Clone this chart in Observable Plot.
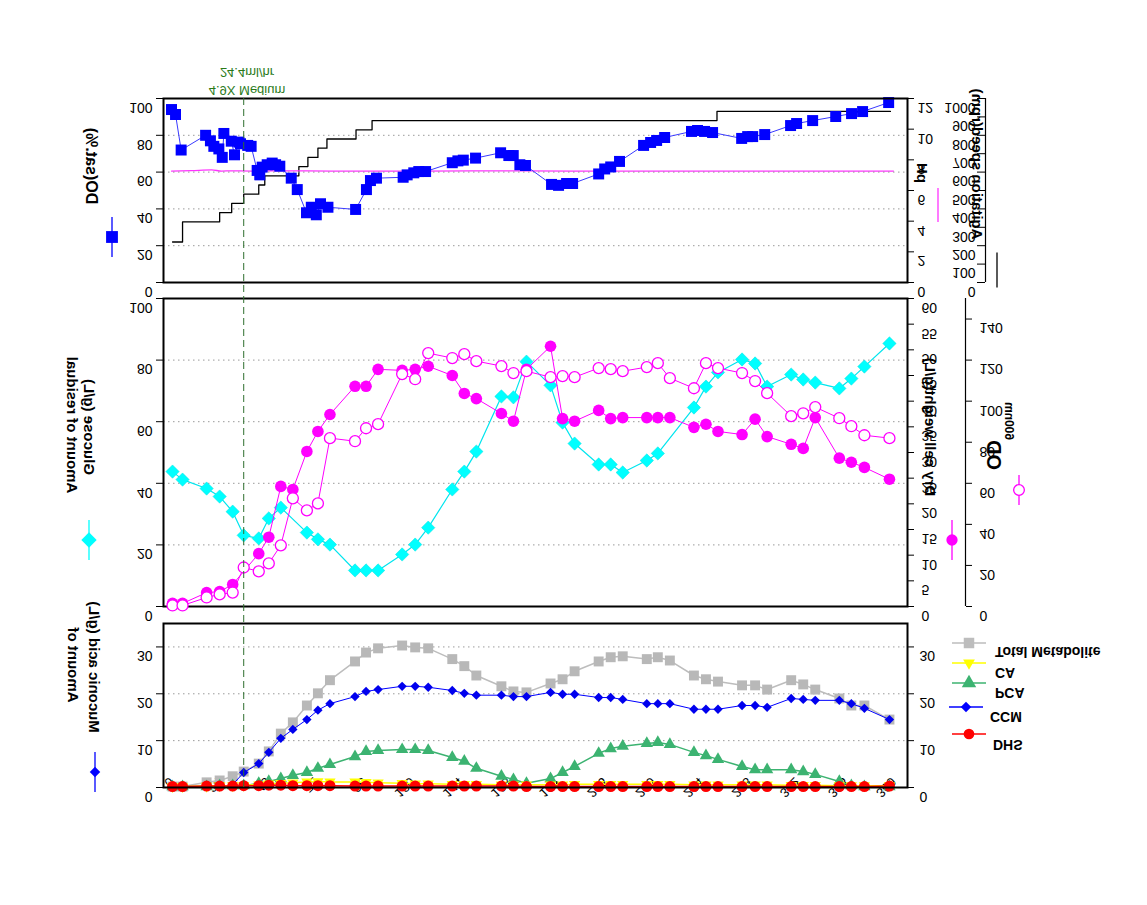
<!DOCTYPE html>
<html><head><meta charset="utf-8">
<script src="https://cdn.jsdelivr.net/npm/d3@7"></script>
<script src="https://cdn.jsdelivr.net/npm/@observablehq/plot@0.6"></script>
<style>
body{margin:0;background:#fff;}
#chart{position:relative;width:1147px;height:905px;font-family:"Liberation Sans",Arial,sans-serif;}
#chart svg{position:absolute;left:0;top:0;overflow:visible;}
</style></head><body><div id="chart"></div>
<script>
// ---------- DATA ----------
const xTicks = [0,24,48,72,96,120,144,168,192,216,240,264,288,312,336,360];

// online DO (sat.%)
const doHours = [0,2,4.8,17,19.4,21.1,23.6,25.3,26.1,29.8,31.4,33.6,34.4,38,39.7,42.7,44,45.2,47.7,50.2,51.9,54,59.7,62.7,67.3,69.7,72.2,74.3,78,91.8,97.2,99.2,102.2,115.5,117.5,120.8,123.3,126.7,140,142.8,145.5,151.6,164.1,168.2,170.4,173.7,176.5,189.5,193,197,200,213,216,219,223.4,235.4,238.9,241.9,245.9,259.3,262.3,265.8,269.8,284.3,287.3,289.8,295.8,308.7,311.7,319.7,331.2,339.1,344.6,357.6];
const doValues = [94,91.3,72,80,77,74,72.6,68,81,76.8,69.4,76.3,75.4,74.5,74,60.9,58.5,62.7,64,64.9,64,63.2,56.7,50.5,37.9,40.9,36.8,42.8,40.9,39.7,50.5,55.4,56.7,57.2,58.5,59.6,60.3,60.3,65.1,66.1,66.5,67.6,70.5,69,69,64,63.6,53.3,52.8,53.8,53.8,59,61.7,62.8,65.8,74.5,76.1,77.2,78.8,82.1,82.6,82.1,81.5,78.3,79.3,79.3,80.4,85.3,86.4,88,90.2,91.8,92.9,97.8];

// pH
const phHours = [0,10,20,25,30,40,60,100,150,200,250,300,360];
const phValues = [7.27,7.3,7.34,7.27,7.28,7.27,7.28,7.26,7.28,7.27,7.27,7.27,7.27];

// agitation speed (rpm), step changes
const agitHours = [0.5,5.5,24,30,36,43.5,46.5,63.5,68,73,77.5,92,100,272,358.5];
const agitValues = [220,330,380,430,480,530,580,630,680,730,780,830,880,930,930];

// offline samples
const sampleHours = [0.5,5.5,17.5,24,30.5,36,43.5,48.5,54.5,60.5,67.5,73,79,91.5,97,103,115,121.5,128,140,146,152,164.5,170.5,177,189,195,201,213,219,225,237,242.5,248.5,260.5,266.5,272.5,284.5,291,297,309,315,321,333,339,345.5,358];
const glucose = [43.8,41.2,38.3,35.7,30.8,23.1,22.1,28.6,32.1,null,24.0,21.8,20.1,11.7,11.7,11.7,16.9,20.1,25.6,38.0,43.8,50.3,68.2,67.9,79.5,71.8,59.7,52.9,46.1,46.1,43.5,47.4,49.7,null,64.6,71.4,76.0,80.2,78.9,71.4,75.3,73.7,72.7,70.8,74.0,77.9,85.4];
const dcw = [0.6,0.6,2.7,2.9,4.3,null,10.3,13.5,23.4,22.8,30.2,34.1,37.4,42.9,42.9,46.2,46.0,46.2,46.8,45.0,41.5,40.5,37.6,36.1,46.2,50.7,36.6,36.1,38.2,36.6,36.8,36.8,36.8,36.8,34.9,35.5,34.1,33.5,36.5,33.1,31.6,30.8,36.8,28.9,28.1,27.1,24.8];
const od600 = [0.5,0.5,4.4,5.9,6.8,19.0,17.1,21.0,29.8,52.7,46.8,50.2,82.0,80.5,86.8,88.8,113.2,110.7,123.4,121.0,122.9,119.5,117.1,113.7,114.6,111.7,112.2,111.7,116.1,115.6,114.6,116.6,118.5,111.2,106.3,118.5,116.1,113.7,109.8,103.9,92.7,94.1,97.1,91.7,87.8,83.4,82.0];
const totalMet = [0.2,0.2,1.1,1.5,2.4,3.4,5.1,7.7,11.5,13.9,17.5,20.1,22.9,26.9,28.8,29.7,30.3,29.9,29.7,27.4,25.9,23.9,21.6,20.5,20.3,22.2,23.1,24.8,26.9,27.8,28.0,27.4,27.8,27.1,23.9,23.1,22.6,21.8,21.8,20.9,22.9,22.0,20.9,19.0,17.5,17.5,14.5];
const ccm = [0,0,0.2,0.2,0.6,3.2,5.1,7.5,10.5,12.4,14.5,16.5,17.9,19.4,20.5,20.9,21.6,21.6,21.4,20.7,20.1,19.7,19.7,19.4,19.4,20.3,19.9,19.9,19.2,19.2,18.8,17.9,17.9,17.9,16.7,16.7,16.7,17.5,17.5,17.1,19.0,18.8,18.6,18.6,17.9,16.9,14.5];
const pca = [0.2,0.2,0.2,0.4,0.4,0.4,0.9,1.3,1.9,2.6,3.2,4.1,4.9,6.6,7.7,7.9,8.1,8.1,7.9,6.4,5.6,4.1,2.4,1.7,0.9,1.9,3.2,4.5,7.3,8.3,8.8,9.4,9.6,9.2,7.5,6.8,6.0,4.5,3.8,3.8,3.8,3.4,2.8,1.3,0.4,0.2,0.2];
const ca = [0.2,0.2,0.3,0.4,0.4,0.5,0.6,0.8,0.9,1.0,1.2,1.3,1.2,1.2,1.1,1.0,0.9,0.8,0.8,0.7,0.7,0.7,0.6,0.6,0.6,0.6,0.6,0.7,0.7,0.7,0.7,0.7,0.7,0.7,0.6,0.6,0.6,0.6,0.6,0.6,0.5,0.5,0.5,0.4,0.4,0.4,0.4];
const dhs = [0.2,0.2,0.3,0.3,0.3,0.4,0.4,0.5,0.5,0.4,0.4,0.4,0.4,0.3,0.3,0.3,0.3,0.3,0.3,0.3,0.3,0.3,0.3,0.3,0.2,0.2,0.2,0.2,0.2,0.2,0.2,0.2,0.2,0.2,0.2,0.2,0.2,0.2,0.2,0.2,0.2,0.2,0.2,0.2,0.2,0.2,0.3];

const feedHour = 36;

// ---------- helpers ----------
const W = 1147, H = 905, X0 = 163, X1 = 907;
const xDomain = [-4, 367];
const TOP = [98, 282], MID = [298, 606], BOT = [623, 787];
const FONT = "'Liberation Sans', Arial, sans-serif";
const chart = document.getElementById("chart");
const series = (hours, vals) => hours.map((h, i) => ({h, v: vals[i]})).filter(d => d.v != null);
const plain = d => String(d);

function layer(panel, yDomain, marks, opt = {}) {
  const svg = Plot.plot({
    width: W, height: H,
    marginLeft: opt.left ?? X0, marginRight: opt.right ?? (W - X1),
    marginTop: panel[0], marginBottom: H - panel[1],
    x: opt.x ?? {domain: xDomain, axis: null},
    y: {domain: yDomain, axis: null},
    style: {background: "transparent", fontFamily: FONT, fontSize: "14px", overflow: "visible", color: "black"},
    marks
  });
  chart.appendChild(svg);
  return svg;
}
function sideAxis(panel, yDomain, xPos, ticks, anchor, extra = {}) {
  layer(panel, yDomain, [
    Plot.axisY(ticks, {anchor, label: null, tickFormat: plain, tickSize: extra.tickSize ?? 7, tickPadding: extra.tickPadding ?? 3, fontSize: 14, stroke: "black"}),
    Plot.ruleX([0], {stroke: "black", strokeWidth: 1.2})
  ], {left: anchor === "left" ? xPos : xPos - 1, right: W - (anchor === "left" ? xPos + 1 : xPos),
      x: {domain: anchor === "left" ? [0, 1] : [-1, 0], axis: null}});
}
const grid = (vals) => Plot.gridY(vals, {stroke: "#9a9a9a", strokeOpacity: 1, strokeDasharray: "1.5,3.5", strokeWidth: 1});

// ---------- TOP PANEL ----------
const doData = series(doHours, doValues);
const phData = series(phHours, phValues);
const agData = series(agitHours, agitValues);

layer(TOP, [0, 1000], [
  Plot.line(agData, {x: "h", y: "v", curve: "step-after", stroke: "black", strokeWidth: 1.3})
]);
sideAxis(TOP, [0, 1000], 985, d3.range(0, 1001, 100), "left", {tickSize: 8, tickPadding: 2});
layer(TOP, [0, 12], [
  Plot.line(phData, {x: "h", y: "v", stroke: "#ff33ff", strokeWidth: 1.3, curve: "monotone-x"}),
  Plot.axisY(d3.range(0, 13, 2), {anchor: "right", label: null, tickFormat: plain, tickSize: 6, tickPadding: 4, fontSize: 14})
]);
layer(TOP, [0, 100], [
  grid([20, 40, 60, 80]),
  Plot.axisY(d3.range(0, 101, 20), {anchor: "left", label: null, tickFormat: plain, tickSize: 7, tickPadding: 4, fontSize: 14}),
  Plot.line(doData, {x: "h", y: "v", stroke: "#3a3aff", strokeWidth: 1}),
  Plot.dot(doData, {x: "h", y: "v", symbol: "square", r: 6.2, fill: "#0000ff", stroke: "none"}),
  Plot.frame({stroke: "black", strokeWidth: 2})
]);

// ---------- MIDDLE PANEL ----------
const gluData = series(sampleHours, glucose);
const dcwData = series(sampleHours, dcw);
const odData = series(sampleHours, od600);

layer(MID, [0, 100], [
  grid([20, 40, 60, 80]),
  Plot.axisY(d3.range(0, 101, 20), {anchor: "left", label: null, tickFormat: plain, tickSize: 7, tickPadding: 4, fontSize: 14}),
  Plot.line(gluData, {x: "h", y: "v", stroke: "#00e5ee", strokeWidth: 1.2}),
  Plot.dot(gluData, {x: "h", y: "v", symbol: "diamond2", r: 6, fill: "#00ffff", stroke: "#00e0e0", strokeWidth: 0.5}),
  Plot.frame({stroke: "black", strokeWidth: 2})
]);
layer(MID, [0, 60], [
  Plot.axisY(d3.range(0, 61, 5), {anchor: "right", label: null, tickFormat: plain, tickSize: 6, tickPadding: 8, fontSize: 14}),
  Plot.line(dcwData, {x: "h", y: "v", stroke: "#ff00ff", strokeWidth: 1}),
  Plot.dot(dcwData, {x: "h", y: "v", r: 5.8, fill: "#ff00ff", stroke: "none"})
]);
layer(MID, [0, 150], [
  Plot.line(odData, {x: "h", y: "v", stroke: "#ff00ff", strokeWidth: 1}),
  Plot.dot(odData, {x: "h", y: "v", r: 5.5, fill: "white", stroke: "#ff00ff", strokeWidth: 1.3})
]);
sideAxis(MID, [0, 150], 965, d3.range(0, 141, 20), "right", {tickSize: 6, tickPadding: 8});

// ---------- BOTTOM PANEL ----------
const mk = (vals) => series(sampleHours, vals);
const totData = mk(totalMet), ccmData = mk(ccm), pcaData = mk(pca), caData = mk(ca), dhsData = mk(dhs);
layer(BOT, [0, 35], [
  grid([10, 20, 30]),
  Plot.axisY([0, 10, 20, 30], {anchor: "left", label: null, tickFormat: plain, tickSize: 7, tickPadding: 4, fontSize: 14}),
  Plot.axisY([0, 10, 20, 30], {anchor: "right", label: null, tickFormat: plain, tickSize: 6, tickPadding: 6, fontSize: 14}),
  Plot.ruleX(xTicks, {x: d => d, y1: 0, y2: 1.1, stroke: "black"}),
  Plot.text(xTicks, {x: d => d, frameAnchor: "bottom", text: d => String(d), rotate: -45, textAnchor: "end", dx: -3, dy: -11, fontSize: 13}),
  Plot.line(totData, {x: "h", y: "v", stroke: "#bdbdbd", strokeWidth: 1.5}),
  Plot.dot(totData, {x: "h", y: "v", symbol: "square", r: 5.6, fill: "#b8b8b8"}),
  Plot.line(ccmData, {x: "h", y: "v", stroke: "#0000ff", strokeWidth: 1}),
  Plot.dot(ccmData, {x: "h", y: "v", symbol: "diamond2", r: 4.2, fill: "#0000ee"}),
  Plot.line(pcaData, {x: "h", y: "v", stroke: "#3cb371", strokeWidth: 1.5}),
  Plot.dot(pcaData, {x: "h", y: "v", symbol: "triangle", r: 4.6, fill: "#3cb371"}),
  Plot.line(caData, {x: "h", y: "v", stroke: "#ffff00", strokeWidth: 1.5}),
  Plot.dot(caData, {x: "h", y: "v", symbol: "triangle", rotate: 180, r: 4.2, fill: "#ffff00"}),
  Plot.line(dhsData, {x: "h", y: "v", stroke: "#ff0000", strokeWidth: 1.5}),
  Plot.dot(dhsData, {x: "h", y: "v", r: 5.5, fill: "#ff0000"}),
  Plot.frame({stroke: "black", strokeWidth: 2})
]);

// feed start dashed line
layer([TOP[0], BOT[1]], [0, 1], [
  Plot.ruleX([feedHour], {stroke: "#2f6f2f", strokeDasharray: "7,4", strokeWidth: 1})
]);

// ---------- TITLES & LEGEND GLYPHS ----------
const ov = d3.select(chart).append("svg").attr("width", W).attr("height", H)
  .style("font-family", FONT);
function vtext(x, y, str, size, opt = {}) {
  ov.append("text").attr("transform", `translate(${x},${y}) rotate(-90)`)
    .attr("text-anchor", opt.anchor ?? "middle").attr("font-size", size)
    .attr("font-weight", opt.weight ?? "bold").attr("fill", opt.fill ?? "black").text(str);
}
function htext(x, y, str, size, opt = {}) {
  ov.append("text").attr("x", x).attr("y", y)
    .attr("text-anchor", opt.anchor ?? "start").attr("font-size", size)
    .attr("font-weight", opt.weight ?? "bold").attr("fill", opt.fill ?? "black").text(str);
}
function glyph(x, y, type, color, size, fill, horizontal, len) {
  const half = len / 2;
  if (horizontal) ov.append("line").attr("x1", x - half).attr("x2", x + half).attr("y1", y).attr("y2", y).attr("stroke", color).attr("stroke-width", 1.3);
  else ov.append("line").attr("x1", x).attr("x2", x).attr("y1", y - half).attr("y2", y + half).attr("stroke", color).attr("stroke-width", 1.3);
  if (!type) return;
  const p = ov.append("path").attr("d", d3.symbol(type, size)()).attr("fill", fill ?? color)
    .attr("transform", `translate(${x},${y})`);
  if (fill === "white") p.attr("stroke", color).attr("stroke-width", 1.3);
}
// axis titles
vtext(86, 166, "DO(sat.%)", 16);
vtext(917, 173, "pH", 15);
vtext(972, 164, "Agitation speed(rpm)", 15);
vtext(67, 425, "Amount of residual", 15);
vtext(84, 427, "Glucose (g/L)", 15);
vtext(925, 427, "Dry cell weight(g/L)", 15);
vtext(987, 455, "OD", 20);
vtext(1004, 421, "600nm", 12);
vtext(68, 665, "Amount of", 15);
vtext(89.5, 667, "Muconic acid (g/L)", 15);
htext(247, 68, "24.4ml/hr", 13, {anchor: "middle", weight: "normal", fill: "#2a7a1a"});
htext(247, 86, "4.9X Medium", 13, {anchor: "middle", weight: "normal", fill: "#2a7a1a"});
// axis legend glyphs
glyph(112, 237, d3.symbolSquare, "#0000ff", 140, null, false, 40);
glyph(938, 205, null, "#ff33ff", 0, null, false, 34);
glyph(997, 270, null, "black", 0, null, false, 35);
glyph(89, 540, d3.symbolDiamond2, "#00ffff", 150, null, false, 40);
glyph(952, 540, d3.symbolCircle, "#ff00ff", 100, null, false, 40);
glyph(1019, 490, d3.symbolCircle, "#ff00ff", 90, "white", false, 30);
glyph(95, 772, d3.symbolDiamond2, "#0000ff", 70, null, false, 40);
// bottom legend
glyph(969, 643, d3.symbolSquare, "#bdbdbd", 110, null, true, 34);
htext(995, 647, "Total Metabolite", 14);
glyph(969, 663, null, "#ffff00", 0, null, true, 34);
ov.append("path").attr("d", d3.symbol(d3.symbolTriangle, 60)()).attr("fill", "#ffff00").attr("transform", "translate(969,663) rotate(180)");
htext(995, 668, "CA", 14);
glyph(969, 683, d3.symbolTriangle, "#3cb371", 90, null, true, 34);
htext(995, 688, "PCA", 14);
glyph(966, 707, d3.symbolDiamond2, "#0000ff", 70, null, true, 34);
htext(990, 712, "CCM", 14);
glyph(969, 734, d3.symbolCircle, "#ff0000", 90, null, true, 34);
htext(993, 740, "DHS", 14);

// ---------- mirror every text about its own baseline (as in the reference) ----------
chart.querySelectorAll("text").forEach(t => {
  const b = t.getBBox();
  if (!b.height) return;
  const base = b.y + 0.81 * b.height;
  const tr = t.getAttribute("transform") || "";
  t.setAttribute("transform", `${tr} translate(0,${(2 * base).toFixed(2)}) scale(1,-1)`);
});
</script></body></html>
